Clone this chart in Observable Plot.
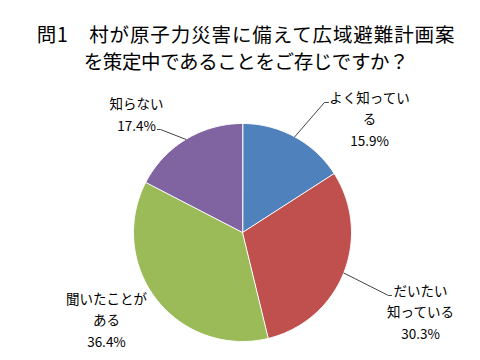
<!DOCTYPE html>
<html><head><meta charset="utf-8">
<script src="https://cdn.jsdelivr.net/npm/d3@7"></script>
<script src="https://cdn.jsdelivr.net/npm/@observablehq/plot@0.6"></script>
<style>
body{margin:0;background:#fff;width:480px;height:360px;overflow:hidden;}
#title{font-family:"Noto Sans CJK JP",sans-serif;font-size:19.5px;line-height:27px;text-align:center;padding:20px 0 6px 12px;height:54px;color:#000;white-space:nowrap;}
#title .l1{letter-spacing:0.9px;}
#title .l2{letter-spacing:-0.4px;}
#chart svg{display:block;}
</style></head>
<body>
<div id="title"><span class="l1">問1　村が原子力災害に備えて広域避難計画案</span><br><span class="l2">を策定中であることをご存じですか？</span></div>
<div id="chart"></div>
<script>
const categories = ["よく知っている", "だいたい知っている", "聞いたことがある", "知らない"];
const labelNames = ["よく知ってい\nる", "だいたい\n知っている", "聞いたことが\nある", "知らない"];
const values = [15.9, 30.3, 36.4, 17.4];
const colors = ["#4F81BD", "#C0504D", "#9BBB59", "#8064A2"];

// layout (unit circle coords): label block centers and leader elbows
const labelPos = [[1.165, 1.055], [1.633, -0.716], [-1.248, -0.789], [-0.972, 1.096]];
const leaderEnd = [[[0.752, 1.193], [0.789, 1.193]], [[1.339, -0.578], [1.367, -0.578]], null, [[-0.752, 0.945], [-0.780, 0.945]]];

const total = d3.sum(values);
const slices = [];
const labels = [];
const leaders = [];
let acc = 0;
values.forEach((v, i) => {
  const a0 = acc / total * 2 * Math.PI;
  const a1 = (acc + v) / total * 2 * Math.PI;
  acc += v;
  slices.push({cat: categories[i], x: 0, y: 0});
  const n = Math.max(2, Math.ceil((a1 - a0) / (Math.PI / 180)));
  for (let k = 0; k <= n; k++) {
    const a = a0 + (a1 - a0) * k / n;
    slices.push({cat: categories[i], x: Math.sin(a), y: Math.cos(a)});
  }
  const am = (a0 + a1) / 2;
  labels.push({text: labelNames[i] + "\n" + v.toFixed(1) + "%", x: labelPos[i][0], y: labelPos[i][1]});
  if (leaderEnd[i]) {
    leaders.push({id: i, x: Math.sin(am), y: Math.cos(am)});
    leaderEnd[i].forEach(p => leaders.push({id: i, x: p[0], y: p[1]}));
  }
});

const R = 109, W = 480, H = 280, cx = 242, cy = 152;
const chart = Plot.plot({
  width: W, height: H,
  margin: 0,
  x: {domain: [-cx / R, (W - cx) / R], axis: null},
  y: {domain: [-(H - cy) / R, cy / R], axis: null},
  color: {domain: categories, range: colors},
  style: {fontFamily: '"Noto Sans CJK JP", sans-serif', background: "#fff"},
  marks: [
    Plot.line(slices, {x: "x", y: "y", z: "cat", fill: "cat", stroke: "#ffffff", strokeWidth: 1, curve: "linear-closed"}),
    Plot.line(leaders, {x: "x", y: "y", z: "id", stroke: "#444", strokeWidth: 1}),
    Plot.text(labels, {x: "x", y: "y", text: "text", fontSize: 13.5, lineHeight: 1.58, fill: "#000", textAnchor: "middle"})
  ]
});
document.getElementById("chart").appendChild(chart);
</script>
</body></html>
